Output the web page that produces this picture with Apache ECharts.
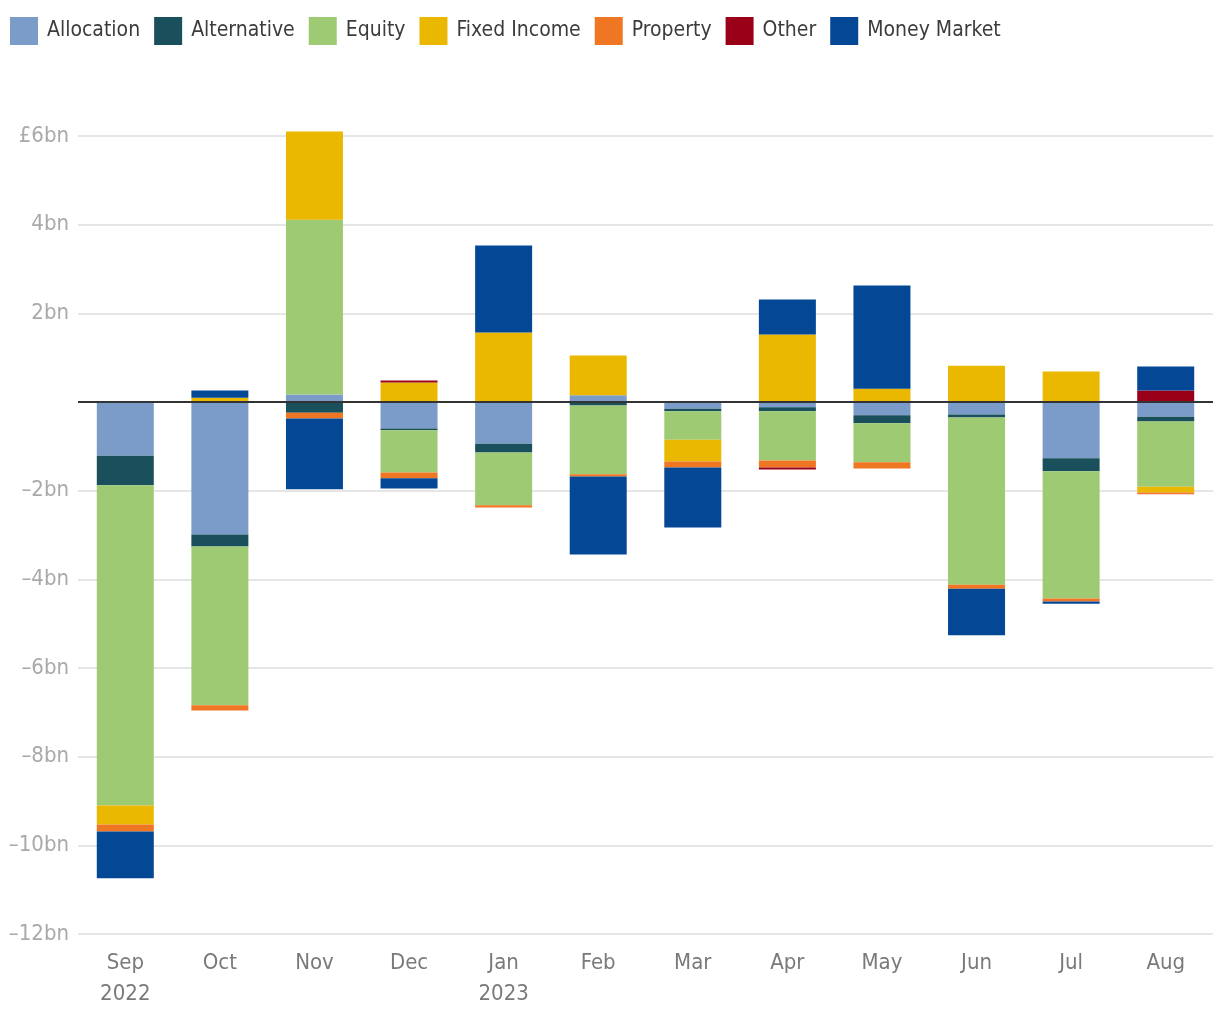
<!DOCTYPE html>
<html>
<head>
<meta charset="utf-8">
<script src="https://cdn.jsdelivr.net/npm/echarts@6/dist/echarts.min.js"></script>
<style>html,body{margin:0;padding:0;background:#fff}#c{width:1220px;height:1020px}</style>
</head>
<body>
<div id="c"></div>
<script>
const categories = ['Sep\n2022','Oct','Nov','Dec','Jan\n2023','Feb','Mar','Apr','May','Jun','Jul','Aug'];
const seriesNames = ['Allocation','Alternative','Equity','Fixed Income','Property','Other','Money Market'];
const allocation  = [-1.21, -2.99, 0.17, -0.60, -0.94, 0.15, -0.15, -0.12, -0.30, -0.28, -1.27, -0.33];
const alternative = [-0.67, -0.27, -0.24, -0.04, -0.20, -0.08, -0.06, -0.09, -0.18, -0.07, -0.29, -0.11];
const equity      = [-7.22, -3.58, 3.94, -0.95, -1.19, -1.55, -0.64, -1.11, -0.88, -3.77, -2.87, -1.47];
const fixedIncome = [-0.43, 0.095, 1.99, 0.44, 1.57, 0.90, -0.49, 1.52, 0.30, 0.82, 0.69, -0.13];
const property    = [-0.16, -0.12, -0.13, -0.13, -0.05, -0.05, -0.14, -0.16, -0.14, -0.09, -0.07, -0.04];
const other       = [0, 0, 0, 0.045, 0, 0, 0, -0.04, 0, 0, 0, 0.26];
const moneyMarket = [-1.05, 0.165, -1.60, -0.23, 1.96, -1.76, -1.35, 0.79, 2.33, -1.05, -0.05, 0.54];
const yTickLabels = {'6':'£6bn','4':'4bn','2':'2bn','0':'','-2':'–2bn','-4':'–4bn','-6':'–6bn','-8':'–8bn','-10':'–10bn','-12':'–12bn'};

const colors = ['#7b9bc9','#19505c','#9dca73','#eab800','#ef7622','#9a0018','#044795'];
const values = [allocation, alternative, equity, fixedIncome, property, other, moneyMarket];
const FONT = "'Liberation Sans Narrow','DejaVu Sans Condensed','Roboto',sans-serif";

const series = seriesNames.map((n, i) => {
  const s = {
    name: n, type: 'bar', stack: 'all', stackStrategy: 'samesign',
    data: values[i], barWidth: 57, clip: false,
    itemStyle: {color: colors[i]},
    emphasis: {disabled: true}
  };
  if (i === seriesNames.length - 1) {
    s.markLine = {
      silent: true, symbol: ['none','none'], z: 10,
      label: {show: false},
      lineStyle: {color: '#333', width: 2, type: 'solid'},
      data: [{yAxis: 0}]
    };
  }
  return s;
});

const chart = echarts.init(document.getElementById('c'), null, {renderer: 'canvas'});
chart.setOption({
  animation: false,
  color: colors,
  textStyle: {fontFamily: FONT},
  legend: {
    top: 12, left: 5, itemWidth: 28, itemHeight: 28, itemGap: 14,
    icon: 'rect',
    textStyle: {fontSize: 21, color: '#3c3c3c', fontFamily: FONT, padding: [0,0,0,4]},
    data: seriesNames
  },
  grid: {left: 78, right: 7, top: 136, bottom: 86, containLabel: false, outerBoundsMode: 'none'},
  xAxis: {
    type: 'category', data: categories,
    axisLine: {show: false}, axisTick: {show: false},
    axisLabel: {fontSize: 22, color: '#7a7a7a', fontFamily: FONT, margin: 14, lineHeight: 31}
  },
  yAxis: {
    type: 'value', min: -12, max: 6, interval: 2,
    axisLine: {show: false}, axisTick: {show: false},
    splitLine: {lineStyle: {color: '#e6e6e6', width: 2}},
    axisLabel: {
      fontSize: 22, color: '#a9a9a9', fontFamily: FONT, margin: 9,
      formatter: v => yTickLabels[String(v)] !== undefined ? yTickLabels[String(v)] : ''
    }
  },
  series: series
});
</script>
</body>
</html>
